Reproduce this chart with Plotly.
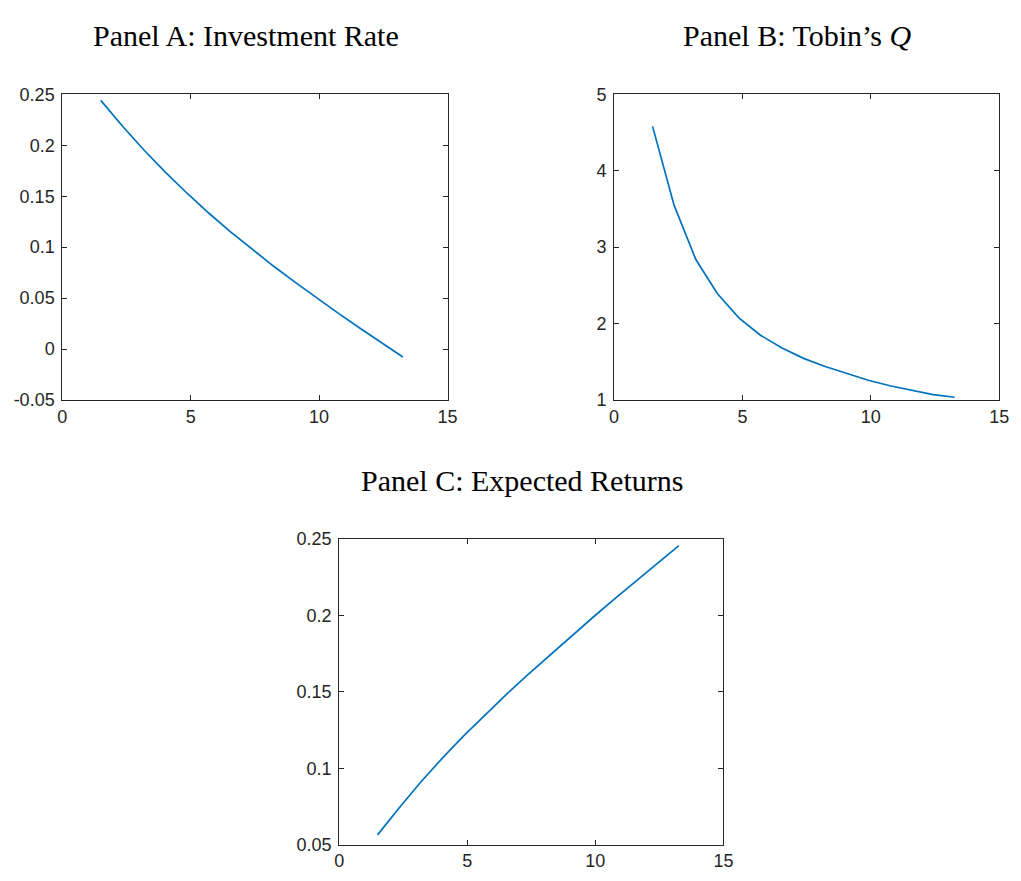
import plotly.graph_objects as go

# ---- data ----
x_vals = [1.50, 2.34, 3.18, 4.02, 4.86, 5.70, 6.54, 7.38, 8.22, 9.06, 9.90, 10.74, 11.58, 12.42, 13.26]
invest_rate = [0.244, 0.2188, 0.1953, 0.1734, 0.1529, 0.1335, 0.1153, 0.098, 0.0815, 0.0657,
               0.0503, 0.0353, 0.0207, 0.0064, -0.0077]
tobins_q = [4.58, 3.546, 2.842, 2.394, 2.075, 1.849, 1.682, 1.546, 1.439, 1.345,
            1.260, 1.188, 1.128, 1.072, 1.038]
exp_returns = [0.0565, 0.0741, 0.0909, 0.1065, 0.1212, 0.1351, 0.1485, 0.1614, 0.174, 0.1864,
               0.1986, 0.2106, 0.2224, 0.2341, 0.2456]

titles = ["Panel A: Investment Rate", "Panel B: Tobin\u2019s <i>Q</i>", "Panel C: Expected Returns"]

xticks = [0, 5, 10, 15]
yticks_a = [-0.05, 0, 0.05, 0.1, 0.15, 0.2, 0.25]
yticks_a_txt = ["-0.05", "0", "0.05", "0.1", "0.15", "0.2", "0.25"]
yticks_b = [1, 2, 3, 4, 5]
yticks_c = [0.05, 0.1, 0.15, 0.2, 0.25]
yticks_c_txt = ["0.05", "0.1", "0.15", "0.2", "0.25"]

W, H = 1021, 881
OFF = 8  # default page margin of the html body
LINE = "#0072BD"
AX = "#262626"

fig = go.Figure()

panels = [
    ((58, 449), (86, 399), invest_rate, [-0.05, 0.25], yticks_a, yticks_a_txt),
    ((618, 1009), (86, 399), tobins_q, [1, 5], yticks_b, [str(v) for v in yticks_b]),
    ((339, 729), (541, 854), exp_returns, [0.05, 0.25], yticks_c, yticks_c_txt),
]

for i, (xd, yd, ys, yr, tv, tt) in enumerate(panels):
    n = "" if i == 0 else str(i + 1)
    x0, x1 = xd[0] - OFF, xd[1] - OFF
    y0, y1 = yd[0] - OFF, yd[1] - OFF
    fig.add_trace(go.Scatter(x=x_vals, y=ys, mode="lines",
                             line=dict(color=LINE, width=1.7),
                             xaxis="x" + n, yaxis="y" + n, showlegend=False))
    axcommon = dict(showline=True, linecolor=AX, linewidth=1, mirror="ticks",
                    ticks="inside", ticklen=5, tickcolor=AX, showgrid=False,
                    zeroline=False, tickfont=dict(family="Liberation Sans, Arial", size=18, color=AX))
    fig.update_layout(**{
        "xaxis" + n: dict(domain=[x0 / W, x1 / W], range=[0, 15], tickvals=xticks,
                          anchor="y" + n, ticklabelstandoff=0, **axcommon),
        "yaxis" + n: dict(domain=[1 - y1 / H, 1 - y0 / H], range=yr, tickvals=tv,
                          ticktext=tt, anchor="x" + n, ticklabelstandoff=3, **axcommon),
    })
    fig.add_annotation(text=titles[i], x=((x0 + x1) / 2 - 9) / W,
                       y=1 - (y0 - 60) / H, xref="paper", yref="paper",
                       showarrow=False, xanchor="center", yanchor="middle",
                       font=dict(family="Liberation Serif, Times New Roman, serif", size=30, color="black"))

fig.update_layout(width=W, height=H, margin=dict(l=0, r=0, t=0, b=0),
                  paper_bgcolor="white", plot_bgcolor="white")

fig.write_html("out.html", config={"displayModeBar": False})
